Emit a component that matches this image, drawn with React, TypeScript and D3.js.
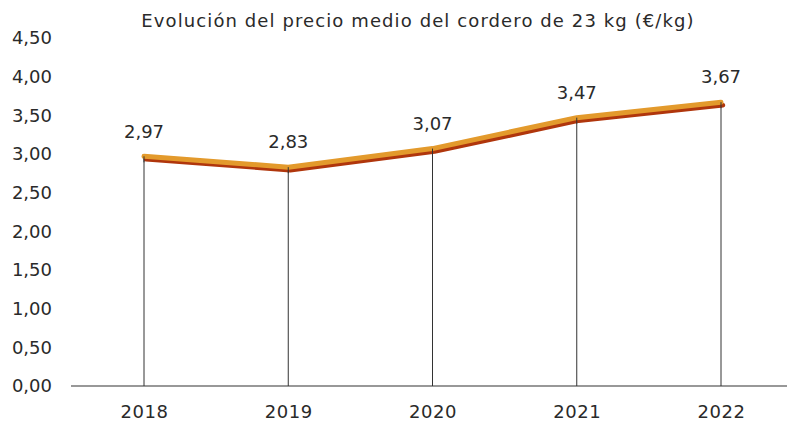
import * as d3 from 'd3';
import React, { useRef, useEffect } from 'react';

const years = ['2018', '2019', '2020', '2021', '2022'];
const prices = [2.97, 2.83, 3.07, 3.47, 3.67];
const yTicks = [0, 0.5, 1, 1.5, 2, 2.5, 3, 3.5, 4, 4.5];
const title = 'Evolución del precio medio del cordero de 23 kg (€/kg)';

const W = 787;
const H = 424;
const FONT = "'DejaVu Sans', sans-serif";
const INK = '#2a2a2a';

export default function App() {
  const ref = useRef<SVGSVGElement>(null);

  useEffect(() => {
    const svg = d3.select(ref.current);
    svg.selectAll('*').remove();

    const x = d3.scalePoint().domain(years).range([144, 721]);
    const y = d3.scaleLinear().domain([0, 4.5]).range([386, 38]);
    const fmt = (v: number) => d3.format('.2f')(v).replace('.', ',');

    svg.append('text')
      .attr('x', 418).attr('y', 27)
      .attr('text-anchor', 'middle')
      .attr('font-family', FONT).attr('font-size', 18)
      .attr('letter-spacing', 1.1)
      .attr('fill', INK)
      .text(title);

    // y labels (no axis line)
    svg.append('g').selectAll('text').data(yTicks).enter().append('text')
      .attr('x', 52).attr('y', (d) => y(d))
      .attr('dy', '0.35em')
      .attr('text-anchor', 'end')
      .attr('font-family', FONT).attr('font-size', 18)
      .attr('fill', INK)
      .text((d) => fmt(d));

    // drop lines
    svg.append('g').selectAll('line').data(prices).enter().append('line')
      .attr('x1', (d, i) => x(years[i])!).attr('x2', (d, i) => x(years[i])!)
      .attr('y1', (d) => y(d)).attr('y2', y(0))
      .attr('stroke', '#333').attr('stroke-width', 1);

    // x axis
    const xAxis = d3.axisBottom(x).tickSize(0).tickPadding(19);
    const gx = svg.append('g').attr('transform', `translate(0,${y(0)})`).call(xAxis);
    gx.select('.domain').remove();
    gx.selectAll('text')
      .attr('font-family', FONT).attr('font-size', 18)
      .attr('letter-spacing', 0.5).attr('fill', INK);
    svg.append('line')
      .attr('x1', 71).attr('x2', W).attr('y1', y(0)).attr('y2', y(0))
      .attr('stroke', '#333').attr('stroke-width', 1.2);

    const pts: [number, number][] = prices.map((d, i) => [x(years[i])!, y(d)]);
    const ln = d3.line();

    // shadow
    svg.append('path')
      .attr('d', ln(pts))
      .attr('transform', 'translate(2,3)')
      .attr('fill', 'none').attr('stroke', '#B0360C')
      .attr('stroke-width', 4.5).attr('stroke-linecap', 'round').attr('stroke-linejoin', 'round');
    svg.append('path')
      .attr('d', ln(pts))
      .attr('fill', 'none').attr('stroke', '#E39A2C')
      .attr('stroke-width', 5).attr('stroke-linecap', 'round').attr('stroke-linejoin', 'round');

    // redraw drop-line tops over line
    svg.append('g').selectAll('line').data(prices).enter().append('line')
      .attr('x1', (d, i) => x(years[i])!).attr('x2', (d, i) => x(years[i])!)
      .attr('y1', (d) => y(d)).attr('y2', (d) => y(d) + 6)
      .attr('stroke', '#333').attr('stroke-width', 1);

    // value labels
    svg.append('g').selectAll('text').data(prices).enter().append('text')
      .attr('x', (d, i) => x(years[i])!).attr('y', (d) => y(d) - 25)
      .attr('dy', '0.35em')
      .attr('text-anchor', 'middle')
      .attr('font-family', FONT).attr('font-size', 18)
      .attr('fill', INK)
      .text((d) => fmt(d));
  }, []);

  return (
    <svg ref={ref} width={W} height={H} style={{ position: 'absolute', left: 0, top: 0, background: '#fff' }} />
  );
}
